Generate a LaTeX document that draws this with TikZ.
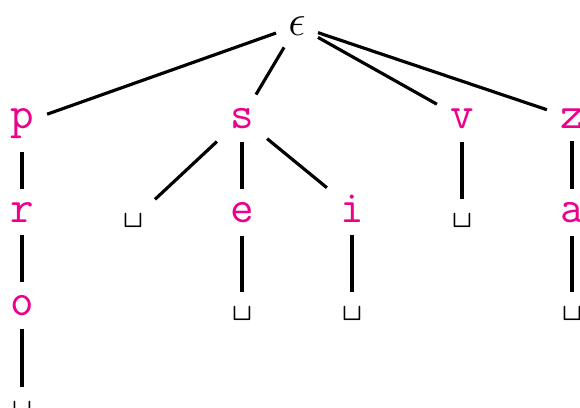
\documentclass[tikz,border=0pt]{standalone}
\usepackage{fontspec}
\definecolor{triepink}{RGB}{236,0,140}

\begin{document}
\begin{tikzpicture}[x=0.02cm, y=-0.02cm,
  letter/.style={anchor=base, inner sep=0.26cm, text=triepink,
    font=\ttfamily\fontsize{26}{30}\selectfont},
  leaf/.style={anchor=base, inner sep=0.26cm,
    font=\ttfamily\fontsize{22}{26}\selectfont},
  branch/.style={line width=1.8pt}]
  \useasboundingbox (0,0) rectangle (580,407);
  % root
  \node[anchor=base, inner sep=0.24cm, font=\fontsize{26}{30}\selectfont] (root) at (297,35) {$\epsilon$};
  % first letters
  \node[letter] (p) at (22,128) {p};
  \node[letter] (s) at (242,128) {s};
  \node[letter] (v) at (462,128) {v};
  \node[letter] (z) at (572,128) {z};
  % second letters
  \node[letter] (pr) at (22,222) {r};
  \node[leaf]   (sl) at (133,222) {\textvisiblespace};
  \node[letter] (se) at (242,222) {e};
  \node[letter] (si) at (352,222) {i};
  \node[leaf]   (vl) at (462,222) {\textvisiblespace};
  \node[letter] (za) at (572,222) {a};
  % third letters
  \node[letter] (pro) at (22,315) {o};
  \node[leaf]   (sel) at (242,315) {\textvisiblespace};
  \node[leaf]   (sil) at (352,315) {\textvisiblespace};
  \node[leaf]   (zal) at (572,315) {\textvisiblespace};
  % fourth letter
  \node[leaf]   (prol) at (22,410) {\textvisiblespace};

  \foreach \from/\to in {root/p, root/s, root/v, root/z,
      p/pr, pr/pro, pro/prol,
      s/sl, s/se, s/si, se/sel, si/sil,
      v/vl, z/za, za/zal}
    \draw[branch] (\from) -- (\to);
\end{tikzpicture}
\end{document}
